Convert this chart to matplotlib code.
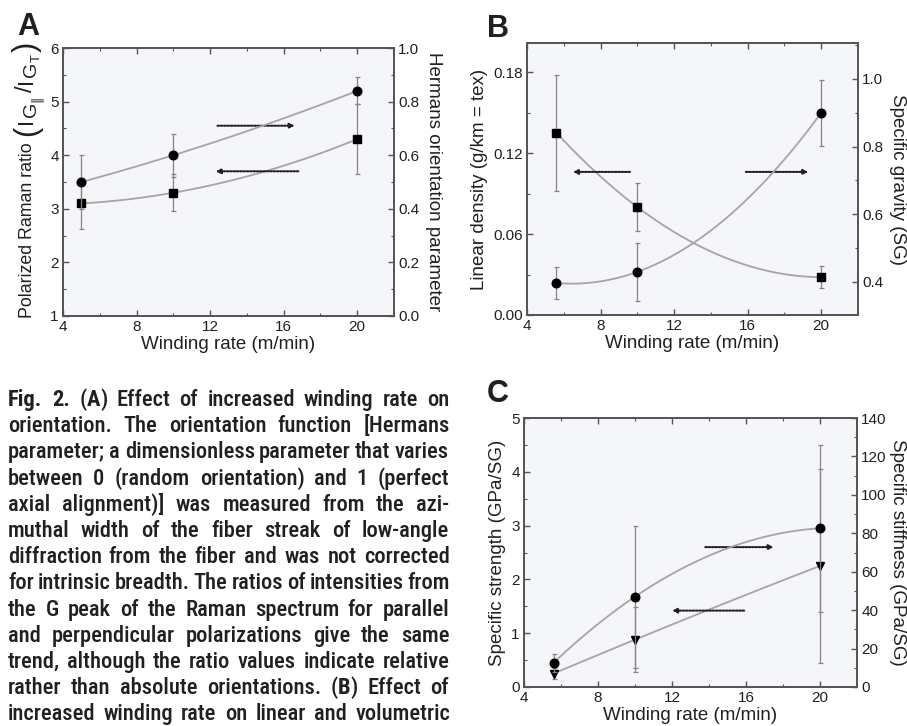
import re
import numpy as np
import matplotlib
matplotlib.use("Agg")
import matplotlib.pyplot as plt
from matplotlib import font_manager as fm
from matplotlib.ticker import MultipleLocator, FormatStrFormatter

plt.rcParams['font.family'] = ['Liberation Sans', 'DejaVu Sans']

# ---- data ----
rate_a = [5, 10, 20]
raman_ratio = [3.1, 3.3, 4.3]
raman_err = [0.48, 0.35, 0.65]
hermans = [0.50, 0.60, 0.84]
hermans_err = [0.10, 0.08, 0.05]

rate_bc = [5.6, 10, 20]
linear_density = [0.135, 0.080, 0.028]
linear_density_err = [0.043, 0.018, 0.008]
specific_gravity = [0.397, 0.43, 0.90]
specific_gravity_err = [0.047, 0.085, 0.097]

specific_strength = [0.25, 0.88, 2.25]
specific_strength_err = [0.10, 0.60, 1.80]
specific_stiffness = [12.6, 47.0, 82.6]
specific_stiffness_err = [4.8, 37.0, 43.4]

caption_lines = [
    "{Fig.} {2.} ({A}) Effect of increased winding rate on",
    "orientation. The orientation function [Hermans",
    "parameter; a dimensionless parameter that varies",
    "between 0 (random orientation) and 1 (perfect",
    "axial alignment)] was measured from the azi-",
    "muthal width of the fiber streak of low-angle",
    "diffraction from the fiber and was not corrected",
    "for intrinsic breadth. The ratios of intensities from",
    "the G peak of the Raman spectrum for parallel",
    "and perpendicular polarizations give the same",
    "trend, although the ratio values indicate relative",
    "rather than absolute orientations. ({B}) Effect of",
    "increased winding rate on linear and volumetric",
]

W, H = 907, 726
LINE_C = '#a9a4a1'
ERR_C = '#8c827e'
SPINE_C = '#555555'
BG = '#f4f6f9'
TXT = '#231f20'

fig = plt.figure(figsize=(W / 100, H / 100), dpi=100)
renderer = fig.canvas.get_renderer()


def box(l, t, r, b):
    return [l / W, 1 - b / H, (r - l) / W, (b - t) / H]


def style(ax, xmaj=4, xmin=2):
    ax.xaxis.set_major_locator(MultipleLocator(xmaj))
    ax.xaxis.set_minor_locator(MultipleLocator(xmin))
    ax.tick_params(which='both', direction='in', top=True, colors=SPINE_C,
                   labelcolor=TXT, labelsize=11, pad=3)
    ax.tick_params(which='major', length=4, width=1)
    ax.tick_params(which='minor', length=2.5, width=0.8)
    for s in ax.spines.values():
        s.set_color(SPINE_C)
        s.set_linewidth(1.3)


def curve(ax, x, y):
    c = np.polyfit(x, y, 2)
    xs = np.linspace(x[0], x[-1], 100)
    ax.plot(xs, np.polyval(c, xs), color=LINE_C, lw=1.3, zorder=2)


def arrow(ax, x0, x1, y):
    ax.annotate('', xy=(x1, y), xytext=(x0, y),
                arrowprops=dict(arrowstyle='-|>', color='#222222', lw=1.5,
                                linestyle=(0, (0.8, 0.8)), mutation_scale=7,
                                shrinkA=0, shrinkB=0))


def points(ax, x, y, err, marker, ms):
    ax.errorbar(x, y, yerr=err, fmt='none', ecolor=ERR_C, elinewidth=0.9,
                capsize=1.8, capthick=0.9, zorder=3)
    ax.plot(x, y, marker, color='k', ms=ms, zorder=4, clip_on=False)


LABEL = 13.5

# ---- panel A ----
axA = fig.add_axes(box(63, 48, 394, 316), facecolor=BG)
axA2 = axA.twinx()
axA.set_xlim(4, 22)
axA.set_ylim(1, 6)
axA2.set_ylim(0, 1.0)
style(axA)
style(axA2)
axA.yaxis.set_major_locator(MultipleLocator(1))
axA.yaxis.set_minor_locator(MultipleLocator(0.5))
axA2.yaxis.set_major_locator(MultipleLocator(0.2))
axA2.yaxis.set_minor_locator(MultipleLocator(0.1))
axA2.yaxis.set_major_formatter(FormatStrFormatter('%.1f'))
curve(axA, rate_a, raman_ratio)
curve(axA2, rate_a, hermans)
points(axA, rate_a, raman_ratio, raman_err, 's', 5.2)
points(axA2, rate_a, hermans, hermans_err, 'o', 6.2)
arrow(axA, 12.4, 16.6, 4.55)
arrow(axA, 16.8, 12.3, 3.7)
axA2.set_ylabel('Hermans orientation parameter', fontsize=LABEL, color=TXT,
                rotation=270, va='bottom', labelpad=4)
axA.set_xlabel('Winding rate (m/min)', fontsize=LABEL, color=TXT, labelpad=1)

# left label of A built from pieces: larger brackets, big sub-subscripts
# (text, size, baseline x in px, gap after in px)
ypos = 318
pieces = [('Polarized Raman ratio', 12.8, 32, 6),
          ('(', 22, 35, 2),
          ('I', 16, 32, 1),
          ('G', 14, 36, 0),
          ('\u2225', 9, 40, 3),
          ('/', 17, 32, 2),
          ('I', 16, 32, 1),
          ('G', 14, 36, 0),
          ('T', 9.5, 40, 2),
          (')', 22, 35, 0)]
for txt, fs, xb, gap in pieces:
    t = fig.text(xb / W, 1 - ypos / H, txt, fontsize=fs, color=TXT, rotation=90,
                 rotation_mode='anchor', ha='left', va='baseline')
    ypos -= t.get_window_extent(renderer).height + gap

# ---- panel B ----
axB = fig.add_axes(box(527, 43, 858, 315), facecolor=BG)
axB2 = axB.twinx()
axB.set_xlim(4, 22)
axB.set_ylim(0, 0.2015)
axB2.set_ylim(0.3025, 1.106)
style(axB)
style(axB2)
axB.yaxis.set_major_locator(MultipleLocator(0.06))
axB.yaxis.set_minor_locator(MultipleLocator(0.03))
axB.yaxis.set_major_formatter(FormatStrFormatter('%.2f'))
axB2.yaxis.set_major_locator(MultipleLocator(0.2))
axB2.yaxis.set_minor_locator(MultipleLocator(0.1))
axB2.yaxis.set_major_formatter(FormatStrFormatter('%.1f'))
curve(axB, rate_bc, linear_density)
curve(axB2, rate_bc, specific_gravity)
points(axB, rate_bc, linear_density, linear_density_err, 's', 5.2)
points(axB2, rate_bc, specific_gravity, specific_gravity_err, 'o', 6.2)
arrow(axB, 9.6, 6.5, 0.106)
arrow(axB, 15.9, 19.3, 0.106)
axB.set_ylabel('Linear density (g/km = tex)', fontsize=LABEL, color=TXT, labelpad=4)
axB2.set_ylabel('Specific gravity (SG)', fontsize=LABEL, color=TXT,
                rotation=270, va='bottom', labelpad=4)
axB.set_xlabel('Winding rate (m/min)', fontsize=LABEL, color=TXT, labelpad=1)

# ---- panel C ----
axC = fig.add_axes(box(524, 418, 857, 687), facecolor=BG)
axC2 = axC.twinx()
axC.set_xlim(4, 22)
axC.set_ylim(0, 5)
axC2.set_ylim(0, 140)
style(axC)
style(axC2)
axC.yaxis.set_major_locator(MultipleLocator(1))
axC.yaxis.set_minor_locator(MultipleLocator(0.5))
axC2.yaxis.set_major_locator(MultipleLocator(20))
axC2.yaxis.set_minor_locator(MultipleLocator(10))
curve(axC, rate_bc, specific_strength)
curve(axC2, rate_bc, specific_stiffness)
points(axC, rate_bc, specific_strength, specific_strength_err, 'v', 6.2)
points(axC2, rate_bc, specific_stiffness, specific_stiffness_err, 'o', 6.2)
arrow(axC, 13.8, 17.5, 2.6)
arrow(axC, 15.9, 12.0, 1.42)
axC.set_ylabel('Specific strength (GPa/SG)', fontsize=LABEL, color=TXT, labelpad=4)
axC2.set_ylabel('Specific stiffness (GPa/SG)', fontsize=LABEL, color=TXT,
                rotation=270, va='bottom', labelpad=2)
axC.set_xlabel('Winding rate (m/min)', fontsize=LABEL, color=TXT, labelpad=1)

# panel letters
for letter, (px, py) in zip('ABC', [(17, 12), (487, 14), (487, 379)]):
    fig.text(px / W, 1 - py / H, letter, fontsize=22, fontweight='bold',
             ha='left', va='top', color=TXT)


# ---- justified caption ----
def as_weight(w):
    if isinstance(w, (int, float)):
        return int(w)
    return {'normal': 400, 'regular': 400, 'book': 400, 'medium': 500,
            'bold': 700, 'light': 300, 'semibold': 600}.get(str(w).lower(), 400)


def caption_font():
    prefs = ['Roboto Condensed', 'Noto Sans', 'Open Sans', 'Liberation Sans Narrow',
             'DejaVu Sans', 'Noto Sans Condensed', 'Open Sans Condensed']
    found = {}
    for f in fm.fontManager.ttflist:
        cond = f.stretch in ('condensed', 'semi-condensed') or \
            'Condensed' in f.name or 'Narrow' in f.name
        if not cond or any(s in f.name for s in ('Mono', 'CJK', 'Serif')):
            continue
        if 'italic' in str(f.style).lower() or 'oblique' in str(f.style).lower():
            continue
        found.setdefault((f.name, f.stretch), set()).add(as_weight(f.weight))
    if not found:
        return dict(family='Lato'), dict(family='Lato', fontweight='bold')

    def rank(key):
        ws = found[key]
        has_reg = 0 if 400 in ws else 1
        p = prefs.index(key[0]) if key[0] in prefs else len(prefs)
        return (has_reg, p)

    key = sorted(found, key=rank)[0]
    ws = found[key]
    wn = min(ws, key=lambda w: abs(w - 460))
    wb = min(ws, key=lambda w: abs(w - 700))
    base = dict(family=key[0], stretch=key[1])
    return dict(base, fontweight=wn), dict(base, fontweight=wb)


reg_font, bold_font = caption_font()


def split_word(word):
    parts = []
    for p in re.split(r'(\{[^}]*\})', word):
        if not p:
            continue
        if p.startswith('{'):
            parts.append((p[1:-1], True))
        else:
            parts.append((p, False))
    return parts


def width(txt, bold, size):
    t = fig.text(0, 0, txt, fontsize=size, **(bold_font if bold else reg_font))
    w = t.get_window_extent(renderer).width
    t.remove()
    return w


left, right = 8, 449
base = 10.0
lines = [[split_word(w) for w in ln.split(' ')] for ln in caption_lines]
widths = [[[width(t, b, base) for t, b in word] for word in ln] for ln in lines]
need = []
for ln, wl in zip(lines, widths):
    tot = sum(sum(w) for w in wl)
    need.append(tot + (len(ln) - 1) * 0.2 * base * 100 / 72)
size = min(17.0, base * (right - left) / max(need))
k = size / base
for i, (ln, wl) in enumerate(zip(lines, widths)):
    wsum = [sum(w) * k for w in wl]
    gap = (right - left - sum(wsum)) / (len(ln) - 1)
    x = left
    y = 406.0 + i * 26.2
    for word, ww in zip(ln, wl):
        xx = x
        for (t, b), pw in zip(word, ww):
            fig.text(xx / W, 1 - y / H, t, fontsize=size, color=TXT,
                     ha='left', va='baseline', **(bold_font if b else reg_font))
            xx += pw * k
        x += sum(ww) * k + gap

fig.savefig('out.png', dpi=100)
